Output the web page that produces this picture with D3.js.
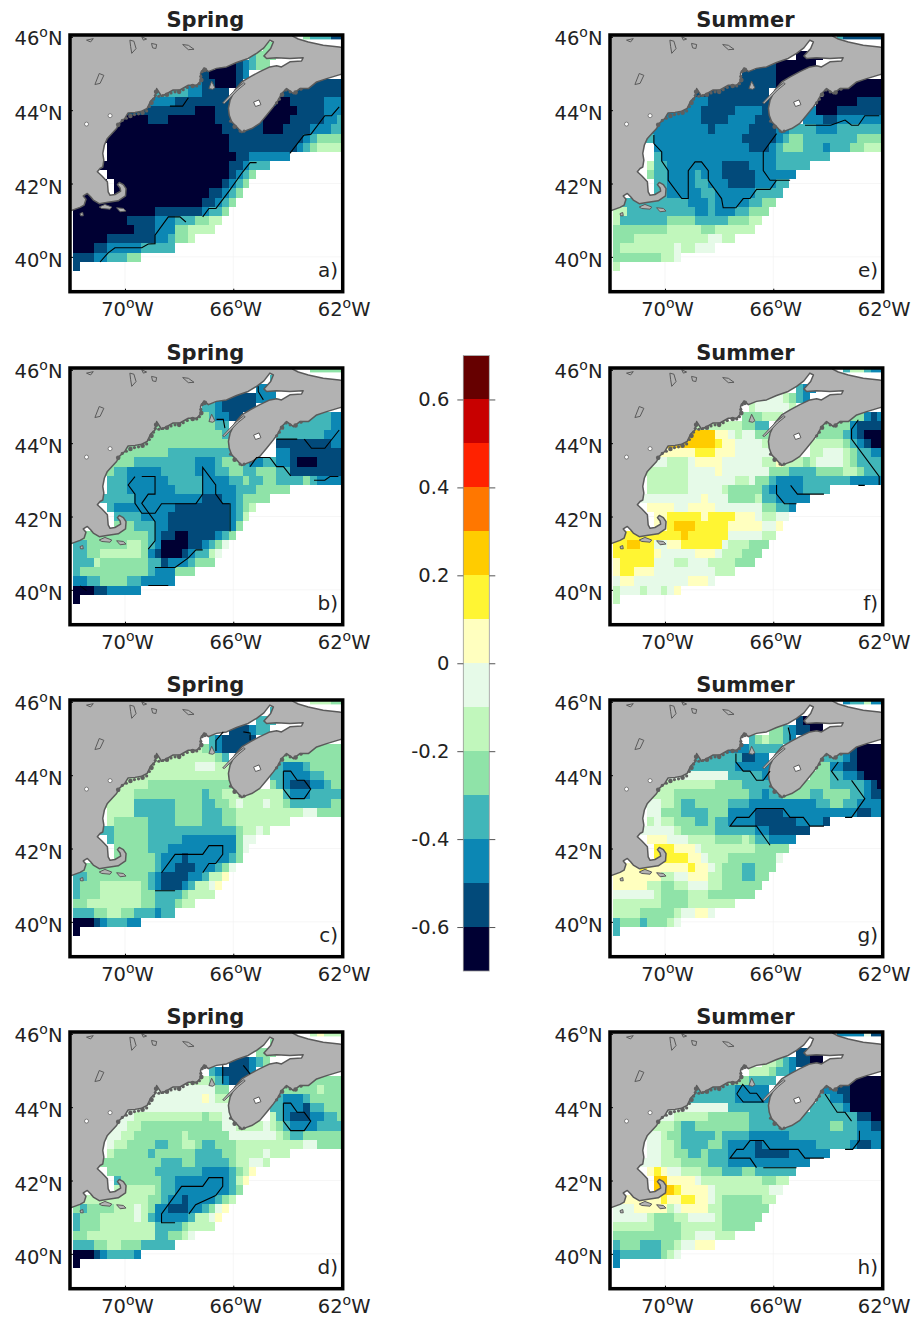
<!DOCTYPE html>
<html>
<head>
<meta charset="utf-8">
<script src="https://cdn.jsdelivr.net/npm/d3@7"></script>
<style>
    body { margin: 0; background: #fff; }
    text { font-family: "DejaVu Sans", sans-serif; fill: #222; }
</style>
</head>
<body>
<div id="chart"></div>
<script>
/* * * * * * * * * * * * * *
*   seasonal anomaly maps  *
* * * * * * * * * * * * * */

// colour classes of the shared colour bar
const colorBreaks = [-0.6, -0.5, -0.4, -0.3, -0.2, -0.1, 0, 0.1, 0.2, 0.3, 0.4, 0.5, 0.6];
const colorValues = ['#000033', '#024a7a', '#0c87b4', '#41b6b9', '#8fe3a8', '#c1f7bc', '#e6fae8',
    '#ffffbf', '#fff533', '#ffcc00', '#ff7700', '#ff2200', '#c80000', '#660000'];
const barTicks = [-0.6, -0.4, -0.2, 0, 0.2, 0.4, 0.6];
const levelValues = [-0.65, -0.55, -0.45, -0.35, -0.25, -0.15, -0.05, 0.05, 0.15, 0.25];

const lonTicks = [-70, -66, -62];
const latTicks = [40, 42, 44, 46];
const panelTitles = ['Spring', 'Spring', 'Spring', 'Spring', 'Summer', 'Summer', 'Summer', 'Summer'];
const panelLetters = ['a)', 'b)', 'c)', 'd)', 'e)', 'f)', 'g)', 'h)'];

// 0.25 degree grid, one string per row from north to south.
// Each token is level-lastColumn, "." is no data.
const gridA = [
    ".-33 4-34 3-37 1-39", ".-27 4-29", ".-25 3-26 4-29", ".-20 0-23 1-24 2-25 3-26 4-28", ".-17 1-19 0-23 1-24 2-25",
    "2-18 1-20 0-23 1-24 .-30 1-39", "3-16 2-18 1-24 .-29 1-39", "2-14 1-24 .-27 1-29 0-31 1-36 2-39",
    "1-17 0-20 1-27 0-32 1-36 2-39", "0-10 1-13 0-20 1-27 0-31 1-36 2-38 3-39", "0-21 1-27 0-30 1-34 2-37 3-39",
    "0-22 1-33 2-34 3-35 4-39", "0-3 .-4 0-22 1-32 2-33 3-34 4-35 5-39", "0-3 .-4 0-23 1-25 2-31",
    "0-22 1-24 2-25 3-28", "0-2 .-4 0-22 1-23 2-24 3-25 4-26", "0-4 .-5 0-21 1-22 2-23 3-24 4-25",
    "0-4 .-5 0-19 1-21 2-22 3-23 4-24", "0-18 1-20 2-21 3-22 4-23", "0-11 1-18 2-19 3-21 4-22",
    "0-7 1-11 2-14 3-17 4-19 5-21", "0-8 1-11 2-14 4-16 5-20", "0-4 1-11 2-13 3-14 4-16 5-17",
    "0-2 1-4 2-9 3-14", "1-2 2-4 3-7 4-9", "1-0"
];
const gridB = [
    ".-34 4-39", ".-28 3-29", ".-26 2-29", ".-20 2-21 1-26 2-29", ".-18 3-20 2-21 1-26",
    "4-19 3-20 2-22 1-24 .-30 3-37 2-39", "4-20 3-22 2-23 .-30 3-37 2-39", "4-21 3-23 .-29 3-36 2-39",
    "4-24 .-29 1-37 2-39", "4-13 3-25 .-29 2-31 1-39", "4-8 3-17 2-20 3-21 4-24 3-25 2-27 3-29 2-31 1-32 0-35 1-39",
    "4-5 3-7 2-12 3-17 2-20 3-22 4-24 3-26 4-29 3-31 1-39",
    ".-4 3-7 2-13 3-18 2-22 3-24 4-25 3-27 4-29 3-33 4-34 3-35 2-39", ".-4 3-7 2-14 3-18 2-23 3-26 4-31",
    ".-2 3-8 2-18 1-21 2-23 3-24 4-28", ".-4 3-5 2-14 1-22 2-23 3-24 4-25 5-26", ".-5 3-9 2-13 1-22 2-23 3-24 5-25",
    ".-5 4-8 3-11 2-13 1-22 2-23 4-24", "4-10 3-11 2-12 1-14 0-16 1-20 2-21 3-22 4-23",
    "3-1 4-7 5-9 4-10 3-11 2-12 0-16 1-18 2-19 3-20 4-21 6-22",
    "3-1 4-3 5-9 4-10 2-11 1-12 0-15 1-16 2-17 3-19 5-20 6-21", "3-2 5-3 4-10 3-12 1-13 2-16 3-17 4-20",
    "3-0 4-10 3-11 2-14 4-17", "2-1 3-3 4-7 3-9 2-14", "0-2 1-4 2-9", "0-0"
];
const gridC = [
    ".-34 5-37 4-39", ".-28 3-29", ".-26 3-29", ".-22 1-25 2-26 3-28", ".-19 3-20 2-21 1-26",
    "5-18 4-19 3-20 2-21 1-25 .-30 4-39", "5-20 4-21 3-23 .-30 4-39", "5-17 6-20 5-22 4-24 .-28 3-30 2-33 3-34 4-39",
    "5-24 .-28 3-30 2-34 3-36 4-39", "5-10 4-24 .-28 4-29 3-30 2-31 1-34 2-36 3-37 4-39",
    "5-8 4-18 3-19 4-21 5-30 3-31 2-34 3-39", "5-8 3-14 4-18 3-20 4-22 5-23 6-24 5-27 6-28 5-30 4-31 3-37 4-39",
    ".-4 5-8 3-14 4-18 3-21 4-23 5-33 6-35 4-39", ".-4 5-5 4-10 3-14 4-18 3-21 4-23 5-31",
    "3-5 4-10 3-23 4-24 5-26 6-27 5-28", ".-4 3-5 4-10 3-15 2-23 4-24 6-26", ".-5 4-10 3-13 2-23 4-24 6-25",
    ".-5 4-11 3-12 2-15 1-16 2-22 3-23 4-24", "4-11 3-12 2-14 1-17 2-20 3-21 4-22 6-23",
    "3-1 4-10 3-11 2-12 1-16 2-18 3-19 5-21 7-22", "3-0 4-3 5-9 4-10 3-11 2-12 1-15 2-16 3-17 5-19 6-20 7-21",
    "3-0 4-3 5-9 4-11 3-15 4-16 5-20", "4-1 5-9 4-11 3-14 4-15 5-17", "3-2 4-4 5-6 4-8 3-11 2-12 3-14",
    "0-2 1-3 2-4 3-7 2-9", "0-0"
];
const gridD = [
    ".-34 5-35 7-36 5-39", ".-28 4-29", ".-26 4-29", ".-22 1-25 2-26 3-27 4-28", ".-19 3-20 2-21 1-25 2-26",
    "5-19 4-20 3-21 2-22 1-25 .-30 4-39", "6-20 4-23 .-30 4-35 5-36 4-39", "6-18 7-19 6-20 5-22 4-24 .-28 3-30 2-33 3-34 4-39",
    "6-24 .-28 3-30 2-33 1-34 3-36 4-39", "6-8 5-18 4-19 5-21 6-23 .-28 5-29 3-30 2-31 1-34 2-36 3-38 4-39",
    "6-7 5-9 4-21 6-23 5-27 6-28 5-29 4-30 3-31 2-35 3-39", "6-6 5-8 4-15 5-16 4-22 6-29 5-30 4-31 3-33 4-39",
    ".-4 6-5 5-7 4-11 3-13 4-15 5-17 4-18 3-20 4-23 5-33 6-35 4-39", ".-4 5-5 4-10 3-11 4-17 3-21 4-23 5-27 6-28 5-31",
    "4-12 3-15 4-17 3-22 4-23 5-25 6-27 5-28", ".-4 4-11 3-18 2-22 3-23 4-24 5-25 7-26",
    ".-5 3-6 4-12 3-14 2-22 3-23 5-24 7-25", ".-5 5-11 4-12 3-14 2-22 3-23 4-24",
    "5-10 4-12 3-13 2-15 1-16 2-20 3-21 4-22 5-23", "4-0 3-1 4-5 5-8 6-9 5-10 4-11 2-13 1-16 2-18 3-19 4-20 6-21 7-22",
    "3-0 4-3 5-8 6-9 5-10 3-11 2-16 3-17 5-19 6-20 7-21", "3-0 4-3 5-11 3-15 4-16 5-20",
    "4-1 5-11 3-13 4-15 5-16 6-17", "3-2 4-4 5-6 4-9 3-14", "0-2 1-3 2-4 3-8 2-9", "0-0"
];
const gridE = [
    ".-32 3-33 1-39", ".-29 0-30", ".-26 0-30", ".-20 1-23 0-29", ".-18 1-23 0-27",
    "1-23 0-26 .-30 0-39", "1-24 .-30 0-39", "2-13 1-24 .-29 0-35 1-39", "2-12 1-17 2-21 1-24 .-27 2-29 0-32 1-39",
    "2-12 1-16 2-20 1-23 .-27 2-30 1-32 2-39", "2-13 1-14 2-19 1-23 2-25 3-29 2-32 3-39",
    "3-5 2-18 1-23 2-24 3-25 4-27 3-35 4-39", ".-5 2-19 1-22 2-23 3-24 4-27 3-30 2-31 3-34 4-36 5-39",
    ".-5 3-6 2-23 3-31", ".-4 5-5 3-7 2-15 1-19 2-23 3-28", ".-4 4-5 3-7 2-11 3-12 2-15 1-20 2-26",
    ".-5 3-7 2-11 3-13 2-16 1-20 2-23 3-25", ".-5 3-7 2-12 3-14 2-20 3-24", "3-10 2-13 3-14 2-19 3-21 4-23",
    "5-1 3-11 2-13 3-14 2-17 3-19 4-22", "5-0 3-7 4-11 3-16 4-19 5-21", "4-7 5-12 4-14 5-20", "4-2 5-13 6-15 5-17",
    "4-0 5-8 6-9 5-11 6-14", "4-6 5-8 6-9", "5-0"
];
const gridF = [
    ".-33 3-34 5-36 3-37 2-39", ".-29 2-30", ".-26 3-27 2-29", ".-20 6-24 5-25 4-26 3-27 2-28", ".-19 5-20 6-25 5-26",
    ".-18 4-21 5-24 .-30 4-36 2-37 1-38 2-39", "5-18 4-20 3-22 4-23 .-30 4-34 2-35 1-39",
    "9-14 7-16 6-17 5-18 6-20 4-23 .-29 4-33 3-34 2-35 1-36 0-39", "9-14 8-15 7-17 6-21 5-24 .-28 5-33 4-34 3-35 2-36 1-37 0-39",
    "7-11 8-14 7-17 6-24 .-28 5-30 6-33 5-34 4-35 3-37 2-39", "6-7 5-10 6-11 7-15 6-21 5-23 7-24 5-27 4-28 5-29 6-33 5-34 4-35 3-39",
    "5-10 6-14 7-15 6-22 4-25 3-29 4-33 5-35 4-36 3-39", ".-4 5-10 6-17 5-19 6-20 4-22 3-23 2-27 3-34 2-39",
    ".-4 5-10 6-15 5-16 4-21 3-22 2-27 3-31", "6-12 7-13 6-16 4-20 5-21 3-23 2-28", ".-4 7-8 6-10 7-14 6-21 4-23 3-25 2-26",
    ".-5 7-7 8-12 7-13 8-17 7-20 6-21 5-23 6-25", ".-5 7-7 8-8 9-11 8-16 7-21 6-23 7-24", "8-9 9-10 8-16 6-21 5-23",
    "8-1 9-3 8-5 6-7 7-9 8-15 6-16 5-19 4-22", "8-5 7-6 6-11 7-14 6-15 5-18 4-21", "7-0 8-5 6-8 5-10 6-13 5-17 4-20",
    "7-0 8-2 7-5 6-14 5-17", "6-0 7-2 6-10 7-13 6-14", "5-0 6-3 5-4 6-6 5-7 6-8 7-9", "5-0"
];
const gridG = [
    ".-33 2-34 3-36 5-37 2-39", ".-29 0-30", ".-26 1-27 0-30", ".-22 4-24 3-25 2-26 1-28 0-30", ".-19 3-20 4-21 5-22 4-24 3-25 2-26",
    "2-19 3-24 .-30 3-33 2-34 1-35 0-39", "3-18 1-20 2-23 .-30 3-33 2-34 1-35 0-39", "3-17 2-24 .-29 4-31 2-33 1-35 0-39",
    "6-16 3-21 2-23 .-28 4-31 3-33 2-35 1-36 0-39", "5-14 4-18 3-24 .-25 4-31 3-36 2-37 1-38 0-39",
    "5-8 4-19 3-21 2-22 3-24 4-28 3-30 4-34 3-36 2-37 1-39", "6-6 5-8 4-9 3-11 4-16 3-19 2-29 3-31 4-33 3-35 2-39",
    ".-4 6-6 4-9 3-13 4-16 2-20 1-24 2-35 1-37 2-39", ".-4 5-5 6-6 5-8 4-11 3-13 4-14 3-16 2-20 1-26 2-30 1-31",
    "6-8 5-9 4-14 3-20 2-22 1-28", ".-4 7-7 6-10 5-14 4-18 5-19 4-20 3-22 2-26", ".-5 8-8 7-11 6-12 5-20 4-25",
    ".-5 8-10 7-12 6-13 5-16 4-23 6-24", "7-3 8-4 7-10 8-11 7-13 6-14 5-15 4-18 3-20 4-23",
    "7-6 5-8 6-10 7-13 5-15 4-18 3-20 4-22", "7-4 5-6 4-8 5-10 6-13 5-15 4-21", "6-5 5-6 4-10 5-13 4-20",
    "5-6 4-10 5-17", "5-3 4-8 5-9 6-11 7-13 6-14", "3-0 4-3 3-4 4-7 5-8 6-9", "3-0"
];
const gridH = [
    ".-32 2-36 6-37 1-39", ".-29 0-30", ".-26 1-28 0-30", ".-21 5-23 4-24 3-25 2-26 1-28 0-30", ".-19 5-22 4-23 3-25 2-26",
    "4-19 3-23 .-30 2-32 1-34 0-39", "3-17 2-23 .-30 2-32 1-34 0-39", "3-17 2-24 .-29 3-31 2-33 1-34 0-39",
    "6-16 3-22 2-24 .-28 3-33 2-34 0-39", "6-8 5-13 4-19 3-35 1-37 0-39", "5-8 4-9 3-11 4-19 3-31 4-33 3-35 2-37 1-39",
    "6-6 5-7 4-9 3-14 4-15 3-19 2-25 3-35 2-39", ".-4 6-6 5-8 4-9 3-13 4-15 3-16 2-20 1-21 2-29 3-34 2-35 1-37 2-39",
    ".-4 6-6 5-8 4-10 3-12 4-13 3-16 2-20 1-25 2-31", "6-6 5-9 4-13 3-16 2-28",
    ".-4 7-5 8-6 7-7 6-9 5-12 4-15 3-18 4-20 3-26", ".-5 9-7 7-11 6-12 5-21 4-23 5-25",
    ".-5 9-8 8-9 7-13 6-14 5-22 6-24", "7-6 8-7 7-9 8-11 7-13 6-14 5-15 4-21 5-23", "6-2 7-7 5-8 6-9 7-13 5-15 4-22",
    "6-4 5-5 4-8 5-10 6-14 5-15 4-21", "5-5 4-9 5-15 4-20", "4-9 5-11 6-14 5-17", "3-0 4-3 3-6 4-8 5-9 6-11 7-14",
    "2-0 3-6 4-7 5-8 6-9", "2-0"
];

// cells left empty in every map (bays along the coast)
const emptyCells = [[23, 6]];

// significance outlines, [lon, lat]
const boxC = [[-64.15, 44.11], [-63.88, 44.11], [-63.64, 43.86], [-63.38, 43.86], [-63.14, 43.62], [-63.38, 43.36], [-63.88, 43.36], [-64.15, 43.62], [-64.15, 44.11]];
const linesA = [
    [[-70.92, 39.86], [-70.62, 40.11], [-70.37, 40.25], [-69.38, 40.25], [-69.14, 40.35], [-68.89, 40.36], [-68.89, 40.59], [-68.40, 41.09], [-67.97, 41.09], [-67.75, 40.95]],
    [[-67.13, 41.09], [-66.90, 41.32], [-66.64, 41.32], [-66.15, 41.80], [-65.65, 42.32], [-65.38, 42.57], [-65.14, 42.57]],
    [[-63.91, 42.82], [-63.39, 43.32], [-63.14, 43.34], [-62.62, 43.85], [-62.37, 43.85], [-62.09, 44.09]],
    [[-68.34, 44.11], [-67.87, 44.11], [-67.66, 44.34]]
];
const linesB = [
    [[-69.38, 43.09], [-68.89, 43.09], [-68.89, 42.61], [-69.14, 42.61], [-69.38, 42.36], [-68.89, 41.86], [-68.89, 41.34], [-69.14, 41.11]],
    [[-69.63, 43.09], [-69.88, 42.86], [-69.63, 42.61], [-69.63, 42.36], [-69.38, 42.09], [-68.89, 42.09], [-68.65, 42.35], [-67.38, 42.35], [-67.13, 42.61], [-67.13, 43.34], [-66.65, 42.86], [-66.65, 42.61], [-66.39, 42.35], [-66.12, 42.35], [-66.12, 41.59]],
    [[-68.89, 40.61], [-68.15, 40.61], [-67.66, 40.87], [-67.38, 41.09], [-67.13, 41.09]],
    [[-65.38, 43.36], [-65.14, 43.61], [-64.65, 43.61], [-64.40, 43.36], [-64.15, 43.36], [-63.88, 43.11]],
    [[-64.40, 44.11], [-63.64, 44.11]],
    [[-63.38, 44.11], [-63.11, 43.86], [-62.62, 43.86], [-62.09, 44.36]],
    [[-63.02, 42.99], [-62.62, 42.99], [-62.43, 43.09], [-62.12, 43.09]],
    [[-65.08, 45.55], [-65.08, 45.41], [-64.89, 45.18]],
    [[-66.62, 44.65], [-66.37, 44.65], [-66.31, 44.41]],
    [[-71.66, 40.11], [-71.42, 39.98]],
    [[-69.14, 40.12], [-68.40, 40.12]]
];
const linesC = [
    [[-68.89, 40.85], [-68.15, 40.85]],
    [[-68.65, 41.34], [-68.15, 41.84], [-67.13, 41.84], [-66.90, 42.08], [-66.39, 42.08], [-66.39, 41.84], [-66.65, 41.59], [-66.90, 41.59], [-67.13, 41.34]],
    boxC,
    [[-66.64, 44.66], [-66.64, 44.95], [-66.37, 45.18]],
    [[-65.63, 45.18], [-65.38, 45.15], [-65.38, 44.95]]
];
const linesD = [
    [[-68.15, 40.85], [-68.65, 40.85], [-68.65, 41.09], [-67.91, 41.84], [-67.13, 41.84], [-66.90, 42.08], [-66.39, 42.08], [-66.39, 41.84], [-66.65, 41.59], [-67.39, 41.34], [-67.64, 41.09]],
    boxC,
    [[-66.39, 44.64], [-66.39, 45.14]],
    [[-65.63, 45.14], [-65.38, 44.91]]
];
const linesE = [
    [[-70.41, 43.32], [-70.41, 43.09], [-70.12, 42.86], [-70.12, 42.61], [-69.88, 42.35], [-69.88, 42.09], [-69.38, 41.59], [-69.14, 41.59], [-69.14, 42.35], [-68.89, 42.59], [-68.65, 42.59], [-68.40, 42.35], [-68.40, 42.09], [-67.91, 41.59], [-67.85, 41.34], [-67.38, 41.34], [-67.11, 41.59], [-66.86, 41.59], [-66.62, 41.84], [-66.12, 41.84], [-65.88, 42.09]],
    [[-65.88, 43.36], [-66.37, 42.86], [-66.37, 42.35], [-66.12, 42.09], [-65.38, 42.09]],
    [[-64.83, 43.59], [-63.88, 43.59], [-63.35, 43.73], [-63.11, 43.59], [-62.86, 43.59], [-62.62, 43.85], [-62.09, 43.85]]
];
const linesF = [
    [[-65.88, 42.86], [-65.88, 42.61], [-65.59, 42.35], [-65.14, 42.35]],
    [[-65.36, 42.85], [-65.11, 42.61], [-64.13, 42.61]],
    [[-62.86, 42.85], [-62.62, 42.85]],
    [[-62.86, 44.64], [-63.11, 44.38], [-63.11, 44.11], [-62.09, 43.09], [-62.09, 42.86]]
];
const linesG = [
    [[-67.38, 44.59], [-67.38, 44.36], [-67.11, 44.11], [-66.86, 44.11], [-66.62, 43.86], [-66.37, 43.86], [-66.12, 44.11]],
    [[-65.45, 45.30], [-65.38, 45.09], [-65.38, 44.95]],
    [[-63.60, 44.36], [-63.85, 44.11], [-63.60, 43.86]],
    [[-63.11, 43.86], [-62.62, 43.36], [-63.11, 42.85], [-63.35, 42.85]],
    [[-64.13, 42.61], [-64.65, 42.61], [-64.89, 42.85], [-65.38, 42.85], [-65.63, 43.09], [-66.62, 43.09], [-66.90, 42.85], [-67.35, 42.85], [-67.60, 42.61], [-66.62, 42.61], [-66.12, 42.09]]
];
const linesH = [
    [[-67.35, 44.36], [-67.13, 44.62], [-66.86, 44.38], [-66.62, 44.38], [-66.37, 44.14], [-67.11, 44.14], [-67.35, 44.36]],
    [[-64.09, 44.36], [-63.64, 43.86], [-63.35, 43.86], [-63.11, 43.62]],
    [[-64.13, 42.61], [-64.83, 42.61], [-65.08, 42.85], [-66.12, 42.85], [-66.37, 43.09], [-66.86, 43.09], [-67.11, 42.85], [-67.35, 42.85], [-67.60, 42.61], [-66.86, 42.61], [-66.62, 42.35]],
    [[-66.37, 42.35], [-65.14, 42.35]],
    [[-63.35, 42.85], [-63.07, 42.85], [-62.82, 43.09], [-62.82, 43.36]]
];

// land outline, [lon, lat]: corner, US coast, Fundy, Nova Scotia, back over the Gulf
const landOutline = [
    [-72.1, 46.1], [-72.1, 41.23], [-71.66, 41.35], [-71.51, 41.41], [-71.44, 41.57], [-71.54, 41.66], [-71.39, 41.73], [-71.27, 41.64],
    [-71.17, 41.55], [-70.95, 41.45], [-70.68, 41.48], [-70.25, 41.53], [-69.98, 41.66], [-69.96, 41.86], [-70.06, 41.97], [-70.21, 42.03],
    [-70.28, 41.97], [-70.18, 41.88], [-70.16, 41.79], [-70.37, 41.70], [-70.55, 41.68], [-70.62, 41.77], [-70.65, 42.05], [-70.86, 42.21],
    [-71.02, 42.32], [-70.92, 42.41], [-70.82, 42.45], [-70.78, 42.64], [-70.82, 42.82], [-70.76, 43.05], [-70.65, 43.23], [-70.49, 43.36],
    [-70.31, 43.50], [-70.21, 43.64], [-70.00, 43.78], [-69.89, 43.92], [-69.63, 43.94], [-69.38, 43.97], [-69.18, 44.05], [-69.05, 44.25],
    [-68.89, 44.36], [-68.83, 44.59], [-68.65, 44.38], [-68.46, 44.45], [-68.22, 44.55], [-67.97, 44.55], [-67.66, 44.68], [-67.35, 44.68],
    [-67.17, 44.82], [-67.21, 45.00], [-67.08, 45.15], [-66.92, 45.05], [-66.62, 45.14], [-66.25, 45.18], [-65.88, 45.30], [-65.45, 45.41],
    [-65.14, 45.55], [-64.87, 45.70], [-64.65, 45.91], [-64.52, 45.86], [-64.62, 45.68], [-64.87, 45.48], [-64.77, 45.41], [-64.40, 45.43],
    [-63.91, 45.41], [-63.42, 45.43], [-63.48, 45.34], [-63.91, 45.32], [-64.22, 45.18], [-64.40, 45.21], [-64.65, 45.18], [-65.02, 45.05],
    [-65.38, 44.91], [-65.69, 44.77], [-65.94, 44.55], [-66.12, 44.27], [-66.18, 44.05], [-66.15, 43.86], [-66.06, 43.68], [-65.88, 43.55],
    [-65.69, 43.39], [-65.51, 43.45], [-65.32, 43.50], [-65.02, 43.64], [-64.77, 43.86], [-64.52, 44.09], [-64.34, 44.27], [-64.22, 44.45],
    [-64.03, 44.59], [-63.78, 44.45], [-63.54, 44.59], [-63.23, 44.59], [-62.92, 44.77], [-62.55, 44.86], [-62.06, 44.97], [-61.9, 44.97],
    [-61.9, 45.70], [-62.09, 45.72], [-62.68, 45.77], [-63.23, 45.86], [-63.60, 45.94], [-63.81, 46.02], [-63.81, 46.1]
];
const islandOutlines = [
    [[-70.95, 41.36], [-70.74, 41.43], [-70.49, 41.36], [-70.55, 41.30], [-70.86, 41.32]],
    [[-70.31, 41.34], [-70.06, 41.32], [-69.96, 41.25], [-70.18, 41.23]],
    [[-71.66, 41.18], [-71.56, 41.21], [-71.54, 41.12], [-71.64, 41.12]],
    [[-66.90, 44.59], [-66.80, 44.79], [-66.68, 44.61], [-66.76, 44.57]],
    [[-66.39, 44.20], [-66.12, 44.41], [-65.88, 44.59], [-65.61, 44.75], [-65.56, 44.72], [-65.84, 44.55], [-66.10, 44.35], [-66.33, 44.18]],
    [[-69.82, 45.91], [-69.67, 45.88], [-69.59, 45.68], [-69.75, 45.55], [-69.79, 45.73]],
    [[-67.87, 45.79], [-67.66, 45.77], [-67.45, 45.66], [-67.66, 45.65]],
    [[-69.02, 45.82], [-68.83, 45.79], [-68.86, 45.68], [-68.98, 45.70]],
    [[-70.95, 45.00], [-70.78, 44.95], [-70.92, 44.73], [-71.11, 44.70]],
    [[-71.42, 45.91], [-71.17, 45.95], [-71.27, 45.86]],
    [[-69.38, 46.00], [-69.20, 45.94], [-69.32, 45.91]]
];
const novaScotiaLake = [[-65.25, 44.22], [-65.05, 44.28], [-64.98, 44.15], [-65.18, 44.10]];
// small coastal islands and inland lakes, [lon, lat]
const coastalIslands = [
    [-70.25, 43.60], [-70.10, 43.72], [-69.95, 43.78], [-69.80, 43.84], [-69.65, 43.88], [-69.50, 43.90], [-69.35, 43.93], [-69.20, 43.98],
    [-69.10, 44.10], [-69.02, 44.20], [-68.95, 44.30], [-68.88, 44.40], [-68.85, 44.50], [-68.75, 44.38], [-68.60, 44.40], [-68.45, 44.42],
    [-68.30, 44.47], [-68.15, 44.50], [-68.00, 44.50], [-67.85, 44.56], [-67.70, 44.62], [-67.50, 44.66], [-67.35, 44.66], [-67.25, 44.72],
    [-67.18, 44.82], [-67.20, 44.92], [-67.15, 45.05], [-67.05, 45.10], [-64.40, 44.20], [-64.30, 44.30], [-64.20, 44.42], [-64.05, 44.55],
    [-63.90, 44.50], [-63.70, 44.48], [-63.50, 44.57], [-66.10, 43.70], [-65.95, 43.55], [-65.75, 43.43], [-65.60, 43.43]
];
const whiteLakes = [[-70.55, 43.85], [-71.42, 43.62]];

const grids = [gridA, gridB, gridC, gridD, gridE, gridF, gridG, gridH];
const contourSets = [linesA, linesB, linesC, linesD, linesE, linesF, linesG, linesH];

// layout of the page
const panelWidth = 272.7, panelHeight = 256.7;
const panelLeft = [70, 610];
const panelTop = [35, 368, 700, 1032];
const bar = {left: 463.3, width: 26, top: 355.5, bottom: 971};

const gridWest = -71.908, gridNorth = 46.106, cellLon = 0.25, cellLat = 0.2495;

const color = d3.scaleThreshold().domain(colorBreaks).range(colorValues);

const svg = d3.select("#chart").append("svg")
    .attr("width", 923)
    .attr("height", 1318);

const x = d3.scaleLinear().domain([-72.03, -61.96]).range([0, panelWidth]);
const y = d3.scaleLinear().domain([39.05, 46.05]).range([panelHeight, 0]);
const lineOf = d3.line().x(d => x(d[0])).y(d => y(d[1]));

// expand "level-lastColumn" tokens to one record per cell
function parseGrid(rows) {
    let cells = [];
    rows.forEach((row, r) => {
        let col = 0;
        row.split(" ").forEach(token => {
            let level = token[0];
            let last = +token.slice(2);
            for (; col <= last; col++) {
                if (level !== "." && !emptyCells.some(e => e[0] === col && e[1] === r)) {
                    cells.push({col: col, row: r, value: levelValues[+level]});
                }
            }
        });
    });
    return cells;
}

function formatDegree(selection, suffix) {
    selection.each(function (d) {
        let label = d3.select(this);
        label.text(null);
        label.append("tspan").text(Math.abs(d));
        label.append("tspan").attr("dy", -8).attr("font-size", 14).text("o");
        label.append("tspan").attr("dy", 8).text(suffix);
    });
}

function drawPanel(index) {
    let left = panelLeft[Math.floor(index / 4)];
    let top = panelTop[index % 4];
    let panel = svg.append("g").attr("transform", `translate(${left},${top})`);
    let clipId = "clip" + index;

    panel.append("clipPath").attr("id", clipId)
        .append("rect").attr("width", panelWidth).attr("height", panelHeight);

    let map = panel.append("g").attr("clip-path", `url(#${clipId})`);

    // faint graticule
    map.selectAll(".lonLine").data(lonTicks).enter().append("line")
        .attr("x1", d => x(d)).attr("x2", d => x(d))
        .attr("y1", 0).attr("y2", panelHeight)
        .attr("stroke", "#f2f2f2").attr("stroke-width", 0.7);
    map.selectAll(".latLine").data(latTicks).enter().append("line")
        .attr("x1", 0).attr("x2", panelWidth)
        .attr("y1", d => y(d)).attr("y2", d => y(d))
        .attr("stroke", "#f2f2f2").attr("stroke-width", 0.7);

    // gridded field
    map.selectAll(".cell").data(parseGrid(grids[index])).enter().append("rect")
        .attr("class", "cell")
        .attr("x", d => x(gridWest + d.col * cellLon))
        .attr("y", d => y(gridNorth - d.row * cellLat))
        .attr("width", x(cellLon) - x(0))
        .attr("height", y(0) - y(cellLat))
        .attr("shape-rendering", "crispEdges")
        .attr("fill", d => color(d.value));

    // the field in the Gulf only reaches a thin strip at the top
    map.append("rect")
        .attr("x", x(-64))
        .attr("y", y(45.93))
        .attr("width", x(-61.9) - x(-64))
        .attr("height", y(45.7) - y(45.93))
        .attr("fill", "#fff");

    map.append("path")
        .attr("d", lineOf(landOutline) + "Z")
        .attr("fill", "#b2b2b2")
        .attr("stroke", "#5a5a5a")
        .attr("stroke-width", 1.5)
        .attr("stroke-linejoin", "round");
    map.selectAll(".island").data(islandOutlines).enter().append("path")
        .attr("d", d => lineOf(d) + "Z")
        .attr("fill", "#b2b2b2")
        .attr("stroke", "#5a5a5a")
        .attr("stroke-width", 1);
    map.append("path")
        .attr("d", lineOf(novaScotiaLake) + "Z")
        .attr("fill", "#fff")
        .attr("stroke", "#5a5a5a")
        .attr("stroke-width", 1);
    map.selectAll(".coastal").data(coastalIslands).enter().append("circle")
        .attr("cx", d => x(d[0])).attr("cy", d => y(d[1]))
        .attr("r", (d, i) => i % 3 === 0 ? 2.3 : 1.6)
        .attr("fill", "#5f5f5f");
    map.selectAll(".lake").data(whiteLakes).enter().append("circle")
        .attr("cx", d => x(d[0])).attr("cy", d => y(d[1])).attr("r", 2)
        .attr("fill", "#fff").attr("stroke", "#5a5a5a").attr("stroke-width", 0.7);

    map.selectAll(".contour").data(contourSets[index]).enter().append("path")
        .attr("d", d => lineOf(d))
        .attr("fill", "none")
        .attr("stroke", "#000")
        .attr("stroke-width", 1.1);

    // axes
    let xAxis = panel.append("g")
        .attr("transform", `translate(0,${panelHeight})`)
        .call(d3.axisBottom(x).tickValues(lonTicks).tickSize(-3).tickPadding(10.5));
    let yAxis = panel.append("g")
        .call(d3.axisLeft(y).tickValues(latTicks).tickSize(-3).tickPadding(7.5));
    xAxis.select(".domain").remove();
    yAxis.select(".domain").remove();
    xAxis.selectAll("text").attr("font-size", 19.5).attr("font-family", "DejaVu Sans")
        .attr("x", 2)
        .call(formatDegree, "W");
    yAxis.selectAll("text").attr("font-size", 19.5).attr("font-family", "DejaVu Sans")
        .attr("y", d => d === 46 ? 1 : 3.3)
        .call(formatDegree, "N");

    panel.append("rect")
        .attr("width", panelWidth)
        .attr("height", panelHeight)
        .attr("fill", "none")
        .attr("stroke", "#000")
        .attr("stroke-width", 3.5);

    panel.append("text")
        .attr("x", panelWidth / 2 - 1)
        .attr("y", -8)
        .attr("text-anchor", "middle")
        .attr("font-size", 21)
        .attr("font-weight", "bold")
        .text(panelTitles[index]);

    panel.append("text")
        .attr("x", 268)
        .attr("y", 242)
        .attr("text-anchor", "end")
        .attr("font-size", 20)
        .text(panelLetters[index]);
}

d3.range(8).forEach(drawPanel);

// colour bar
const barScale = d3.scaleLinear().domain([-0.7, 0.7]).range([bar.bottom, bar.top]);
const barEdges = [-0.7].concat(colorBreaks, [0.7]);

svg.selectAll(".barCell").data(colorValues).enter().append("rect")
    .attr("x", bar.left)
    .attr("y", (d, i) => barScale(barEdges[i + 1]))
    .attr("width", bar.width)
    .attr("height", (d, i) => barScale(barEdges[i]) - barScale(barEdges[i + 1]))
    .attr("shape-rendering", "crispEdges")
    .attr("fill", d => d);

svg.append("rect")
    .attr("x", bar.left).attr("y", bar.top)
    .attr("width", bar.width).attr("height", bar.bottom - bar.top)
    .attr("fill", "none").attr("stroke", "#999").attr("stroke-width", 0.8);

const barAxisLeft = svg.append("g")
    .attr("transform", `translate(${bar.left},0)`)
    .call(d3.axisLeft(barScale).tickValues(barTicks).tickSize(6).tickPadding(8)
        .tickFormat(d => d === 0 ? "0" : d3.format(".1f")(d).replace("\u2212", "-")));
barAxisLeft.select(".domain").remove();
barAxisLeft.selectAll("line").attr("stroke", "#555");
barAxisLeft.selectAll("text").attr("font-size", 19.5).attr("font-family", "DejaVu Sans").attr("fill", "#222");

const barAxisRight = svg.append("g")
    .attr("transform", `translate(${bar.left + bar.width},0)`)
    .call(d3.axisRight(barScale).tickValues(barTicks).tickSize(6).tickFormat(""));
barAxisRight.select(".domain").remove();
barAxisRight.selectAll("line").attr("stroke", "#555");
</script>
</body>
</html>
